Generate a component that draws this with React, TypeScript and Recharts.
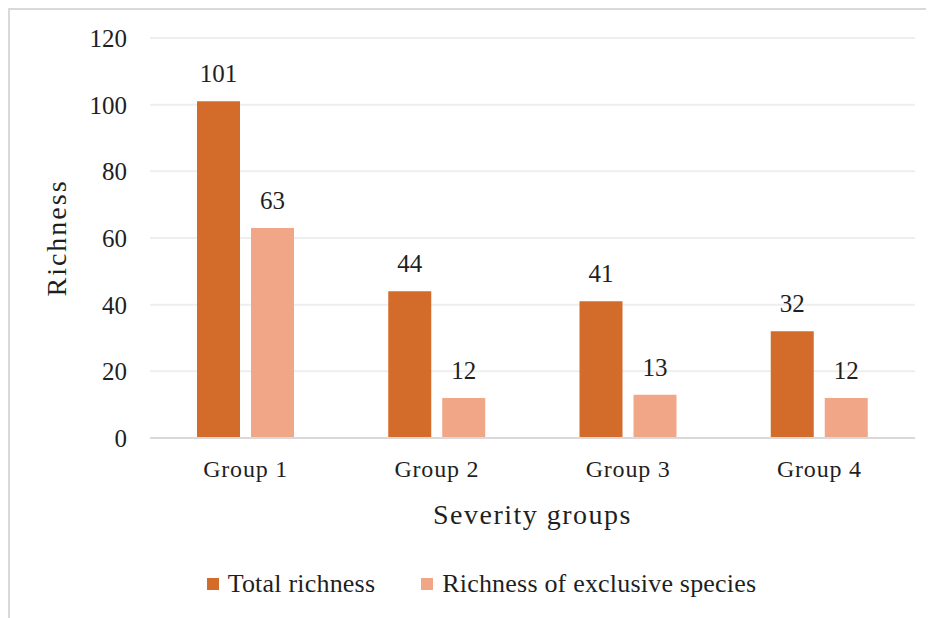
import { Bar, BarChart, CartesianGrid, Label, LabelList, Legend, XAxis, YAxis } from "recharts";

const groups = ["Group 1", "Group 2", "Group 3", "Group 4"];
const totalRichness = [101, 44, 41, 32];
const exclusiveRichness = [63, 12, 13, 12];
const yTicks = [0, 20, 40, 60, 80, 100, 120];

const TOTAL_COLOR = "#d36b2a";
const EXCLUSIVE_COLOR = "#f1a688";
const TEXT = "#1f1f1f";
const FONT = "Liberation Serif";

const data = groups.map((group, i) => ({
  group,
  total: totalRichness[i],
  exclusive: exclusiveRichness[i]
}));

const legendItems = [
  { label: "Total richness", color: TOTAL_COLOR },
  { label: "Richness of exclusive species", color: EXCLUSIVE_COLOR }
];

function ChartLegend() {
  return (
    <div
      style={{
        display: "flex",
        justifyContent: "center",
        gap: 46,
        fontFamily: FONT,
        fontSize: 26,
        letterSpacing: 0.2,
        color: TEXT,
        paddingTop: 42,
        paddingLeft: 38,
        lineHeight: "28px"
      }}
    >
      {legendItems.map((item) => (
        <span key={item.label} style={{ display: "flex", alignItems: "center" }}>
          <span style={{ width: 12, height: 12, background: item.color, marginRight: 9 }} />
          {item.label}
        </span>
      ))}
    </div>
  );
}

export default function App() {
  return (
    <div
      style={{
        borderLeft: "2px solid #d9d9d9",
        borderTop: "2px solid #d9d9d9",
        width: 924,
        height: 608,
        background: "#fff"
      }}
    >
      <BarChart
        width={924}
        height={608}
        data={data}
        margin={{ top: 28, right: 19, bottom: 0, left: 0 }}
        barGap={11}
        barSize={43}
      >
        <CartesianGrid vertical={false} stroke="#eeeeee" strokeWidth={2} />
        <XAxis
          dataKey="group"
          height={90}
          axisLine={{ stroke: "#d9d9d9", strokeWidth: 2 }}
          tickLine={false}
          tickMargin={16}
          tick={{ fill: TEXT, fontSize: 24, fontFamily: FONT, letterSpacing: 0.8 }}
        >
          <Label
            value="Severity groups"
            position="insideBottom"
            offset={4}
            fill={TEXT}
            fontSize={28}
            fontFamily={FONT}
            letterSpacing={1.5}
          />
        </XAxis>
        <YAxis
          width={140}
          domain={[0, 120]}
          ticks={yTicks}
          axisLine={false}
          tickLine={false}
          tickMargin={17}
          tick={{ fill: TEXT, fontSize: 25, fontFamily: FONT }}
        >
          <Label
            content={({ viewBox }: any) => {
              const cx = 50;
              const cy = viewBox.y + viewBox.height / 2;
              return (
                <text
                  x={cx}
                  y={cy}
                  transform={`rotate(-90, ${cx}, ${cy})`}
                  textAnchor="middle"
                  dominantBaseline="middle"
                  fill={TEXT}
                  fontSize={28}
                  fontFamily={FONT}
                  letterSpacing={2}
                >
                  Richness
                </text>
              );
            }}
          />
        </YAxis>
        <Legend verticalAlign="bottom" height={90} content={() => <ChartLegend />} />
        <Bar dataKey="total" name="Total richness" fill={TOTAL_COLOR} isAnimationActive={false}>
          <LabelList dataKey="total" position="top" offset={19} fill={TEXT} fontSize={25} fontFamily={FONT} />
        </Bar>
        <Bar dataKey="exclusive" name="Richness of exclusive species" fill={EXCLUSIVE_COLOR} isAnimationActive={false}>
          <LabelList dataKey="exclusive" position="top" offset={19} fill={TEXT} fontSize={25} fontFamily={FONT} />
        </Bar>
      </BarChart>
    </div>
  );
}
